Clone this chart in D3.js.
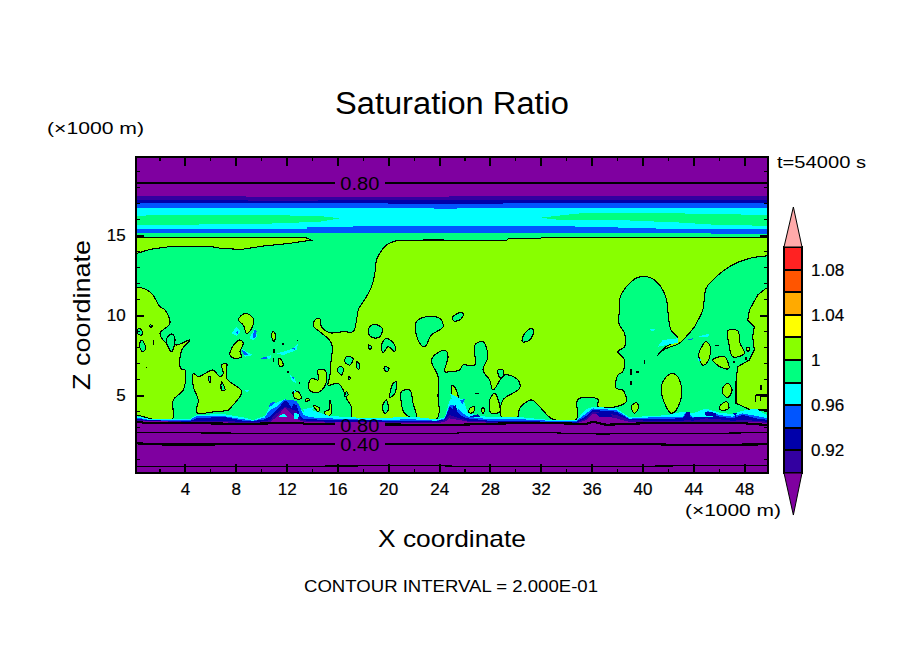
<!DOCTYPE html>
<html><head><meta charset="utf-8">
<script src="https://cdn.jsdelivr.net/npm/d3@7"></script>
<style>
html,body{margin:0;padding:0;background:#fff}
svg{display:block}
text{font-family:"Liberation Sans",sans-serif;fill:#000}
.mark{shape-rendering:crispEdges}
</style></head><body><svg id="c" width="904" height="654"></svg>
<script>
// ---------- text ----------
const titleText = "Saturation Ratio";
const xTitle = "X coordinate", zTitle = "Z coordinate", unitText = "(\u00d71000 m)";
const timeText = "t=54000 s", intervalText = "CONTOUR INTERVAL = 2.000E-01";
// ---------- ticks ----------
const xMajor = [4,8,12,16,20,24,28,32,36,40,44,48];
const xMinor = [2,6,10,14,18,22,26,30,34,38,42,46];
const zMajor = [5,10,15];
const zMinor = [1,2,3,4,6,7,8,9,11,12,13,14,16,17,18,19];
// ---------- colour levels ----------
const levelEdges = [0.90,0.92,0.94,0.96,0.98,1.00,1.02,1.04,1.06,1.08,1.10];
const levelColors = ["#3300a0","#0000aa","#0055ff","#00ffff","#00ff80","#88ff00","#ffff00","#ffaa00","#ff5500","#ff2222"];
const colorUnder = "#7f00a0", colorOver = "#ffaaaa";
const barLabels = [[0.92,"0.92"],[0.96,"0.96"],[1.00,"1"],[1.04,"1.04"],[1.08,"1.08"]];
const [cIndigo,cNavy,cBlue,cCyan,cGreen,cLime] = levelColors;
// ---------- upper-level band edges (x km, z km): area below each edge is painted ----------
const edgeIndigo = [[0.125,17.43],[8.8,17.43],[8.8,17.39],[49.875,17.43]];
const edgeNavy = [[0.125,17.19],[9,17.19],[9,17.15],[49.875,17.19]];
const edgeBlue = [[0.125,16.98],[20,16.98],[20,16.96],[29,16.96],[29,16.98],[49.875,16.98]];
const edgeCyan = [[0.125,16.66],[23.6,16.66],[23.6,16.62],[25.6,16.66],[49.875,16.70]];
const edgeBlueLow = [[0.125,15.35],[3.87,15.35],[3.87,15.39],[13.57,15.39],[13.57,15.48],[17.23,15.48],[17.23,15.56],[34.66,15.56],[34.66,15.48],[38.06,15.48],[38.06,15.41],[41.07,15.41],[41.07,15.37],[49.875,15.37]];
const edgeGreen = [[0.125,15.1],[45.4,15.1],[45.4,15.06],[49.875,15.06]];
const coreLeft = [[0.125,16.19],[1.77,16.25],[9.64,16.25],[14.61,16.19],[16.19,16.04],[14.61,15.83],[9.9,15.69],[0.125,15.62]];
const coreRight = [[31.9,16.08],[35.05,16.35],[42.9,16.35],[49.875,16.25],[49.875,15.58],[46.05,15.62],[43.17,15.77],[37.93,15.94],[33.48,15.94]];
// ---------- ratio > 1 regions ----------
const limeMain = [[50.6,14.85],[49.9,14.85],[41,14.85],[33,14.85],[32.1,14.85],[31.9,14.78],[30,14.78],[29.5,14.78],[29.3,14.68],[26,14.68],[22.2,14.68],[20.64,14.64],[19.85,14.37],[19.33,13.85],[19.07,13.44],[18.94,12.6],[18.68,11.77],[18.28,11.14],[17.76,10.52],[17.63,10.31],[17.5,9.69],[17.23,8.96],[16.45,8.96],[15.4,8.89],[14.74,9.27],[14.61,9.79],[14.22,9.69],[14.14,9.27],[14.61,8.96],[15.53,8.23],[15.48,6.98],[15.4,6.15],[15.27,5.62],[16.05,5.73],[16.45,5.31],[16.71,4.79],[17.1,4.27],[17.23,3.48],[23.78,3.48],[23.91,5.0],[23.91,6.15],[23.39,7.19],[24.05,7.71],[24.52,7.77],[24.7,7.39],[24.44,6.46],[24.83,6.46],[25.62,6.56],[25.88,6.87],[26.8,6.87],[26.8,8.12],[27.45,8.33],[27.84,7.39],[27.45,6.56],[27.97,5.94],[28.24,5.31],[29.15,6.25],[30.2,5.94],[30.33,5.42],[29.02,4.69],[28.89,3.64],[30.2,3.64],[30.33,4.16],[31.25,4.69],[31.9,4.27],[32.95,3.48],[34.79,3.48],[34.92,4.73],[36.49,4.73],[36.49,4.27],[37.93,4.27],[38.72,4.58],[38.45,5.31],[37.93,5.42],[38.06,6.25],[38.45,6.46],[38.59,7.19],[38.06,7.71],[38.59,8.02],[38.59,8.85],[38.14,9.48],[38.19,10.31],[38.19,10.94],[38.45,11.46],[39.11,12.08],[39.63,12.35],[40.55,12.35],[41.34,11.87],[41.86,11.04],[42.07,9.69],[42.25,9.06],[42.78,8.54],[41.86,8.02],[41.2,7.5],[41.73,7.85],[42.9,8.23],[43.43,8.64],[44.09,9.27],[44.38,9.69],[44.74,10.31],[45,11.66],[45.4,12.08],[46.84,13.02],[48.41,13.54],[49.72,13.69],[50.6,13.7]];
const limeWedge = [[0.125,14.85],[13.43,14.85],[13.96,14.68],[12.26,14.48],[10.16,14.31],[8.45,14.1],[6.88,14.16],[5.97,14.29],[2.95,14.29],[1.25,14.1],[0.2,13.85],[0.125,13.85]];
const limeLeft = [[-0.6,11.73],[0.125,11.73],[0.73,11.67],[1.38,11.35],[2.04,10.52],[2.43,10.31],[2.82,9.48],[2.04,8.85],[2.56,8.23],[3.08,8.23],[3.35,8.12],[4.39,8.44],[3.74,7.81],[3.66,6.66],[4,6.56],[3.87,5.31],[3.08,4.69],[3,3.48],[1.51,3.48],[0.2,3.75],[-0.6,3.75]];
const limeLeftB = [[4.66,6.35],[5.05,6.15],[5.84,6.46],[6.23,6.56],[6.75,6.15],[7.01,6.35],[6.88,6.87],[7.28,6.98],[7.28,6.04],[8.46,5.21],[7.67,4.27],[7.41,4.06],[6.36,3.96],[4.92,3.9],[5.05,4.69],[4.66,5.52]];
const limeRight = [[49.875,11.67],[49.72,11.67],[49.07,11.25],[48.41,10.31],[48.28,9.69],[48.8,9.27],[48.67,8.64],[48.8,7.81],[48.41,7.19],[47.49,6.77],[47.36,5.83],[47.36,4.48],[48.54,4.06],[49.72,4.06],[49.875,4.06]];
const limeIslands = [
 [[8.72,10.1],[9.37,9.79],[9.24,9.16],[8.85,8.85],[8.59,9.37],[8.2,9.69]],
 [[8.33,8.44],[8.59,8.23],[8.33,7.71],[8.46,7.39],[7.93,7.29],[7.54,7.5],[7.67,7.91],[8.07,8.33]],
 [[10.94,8.96],[11.13,8.75],[11,8.33],[10.81,8.75]],
 [[11.47,7.29],[11.73,6.87],[11.47,6.77],[11.34,7.19]],
 [[12.52,5.21],[12.91,5.21],[13.17,4.79],[12.65,4.79]],
 [[13.57,4.79],[13.83,4.69],[13.5,4.62]],
 [[14.09,4.37],[14.61,4.16],[14.48,3.96]],
 [[13.96,6.04],[14.48,5.94],[14.48,6.56],[15,6.56],[15.14,5.83],[14.61,5.21],[13.96,5.21],[13.7,5.52]],
 [[15.4,4.69],[15.53,3.85],[15.14,3.64],[15,3.96],[15.32,4.06]],
 [[41.6,5.83],[42.25,6.35],[42.78,6.15],[43.09,5.1],[42.65,4.06],[42.25,3.85],[41.86,4.27],[41.47,5.31]],
 [[44.48,7.71],[45,8.33],[45.34,8.02],[45.14,7.08],[44.74,6.87],[44.43,7.39]],
 [[45.53,7.19],[46.45,7.39],[46.79,6.66],[46.18,6.73]],
 [[46.71,9.02],[47.49,9.02],[47.68,8.23],[48.02,7.6],[47.1,7.39],[46.79,8.23]],
 [[46.31,5.42],[46.71,5.73],[47.05,5.31],[46.71,4.85],[46.31,5.1]],
 [[46.05,4.27],[46.63,4.58],[46.79,4.16],[46.18,4.06]],
 [[39.11,4.27],[39.5,4.52],[39.71,4.27],[39.37,3.85]],
 [[48.15,7.91],[48.41,7.98],[48.33,7.71]],
 [[25.04,5.62],[25.35,5.31],[25.49,4.69],[25.14,4.73],[24.96,5.1]],
 [[26.4,4.16],[26.8,4.27],[26.66,3.9],[26.35,3.9]],
 [[27.32,4.16],[27.58,4.16],[27.45,3.81]],
 [[27.97,4.69],[28.37,5.1],[28.76,4.37],[28.76,3.96],[28.1,3.85]]
];
const greenHoles = [
 [[18.55,9.27],[18.94,9.41],[19.52,9.16],[19.33,8.64],[18.81,8.58],[18.42,8.85]],
 [[22.14,9.48],[22.74,9.85],[24.05,9.79],[24.31,9.27],[23.39,8.75],[22.87,8.02],[22.47,8.23]],
 [[19.46,8.12],[19.85,8.54],[20.51,8.12],[20.51,7.71],[19.99,8.02],[19.59,7.64]],
 [[18.42,8.12],[18.68,8.02],[18.55,7.81]],
 [[16.71,7.39],[17.23,7.29],[16.97,6.87],[16.58,7.08]],
 [[17.5,7.08],[17.76,6.87],[17.68,6.6],[17.5,6.77]],
 [[16.19,6.77],[16.45,6.66],[16.32,6.25],[15.98,6.56]],
 [[16.84,6.19],[17.02,6.04],[16.89,5.94]],
 [[19.72,6.77],[20.06,6.66],[19.91,6.46],[19.67,6.6]],
 [[20.38,5.73],[20.64,5.83],[20.51,5.1],[20.12,4.85]],
 [[16.71,5.21],[16.84,5],[16.58,4.9]],
 [[19.85,4.69],[19.99,4.06],[19.72,3.85],[19.54,4.27]],
 [[21.03,5.21],[21.69,5.31],[21.95,4.48],[22.21,3.54],[21.29,3.85],[21.03,4.48]],
 [[25.09,9.89],[25.62,10.14],[25.93,10.06],[25.62,9.69],[25.14,9.64]],
 [[30.73,8.85],[31.25,9.16],[31.43,8.96],[31.12,8.44],[30.54,8.33]],
 [[28.63,6.56],[29.02,6.56],[29.02,6.15],[28.76,6.1]],
 [[0.33,9.16],[0.6,9.06],[0.6,8.75],[0.26,8.85]],
 [[1.25,9.37],[1.46,9.33],[1.3,9.21]],
 [[0.6,8.44],[0.91,7.91],[0.65,7.71],[0.41,8.12]],
 [[5.84,6.15],[6.02,6.15],[5.97,5.73]],
 [[6.88,5.83],[7.15,5.31],[6.88,5.31]],
 [[2.56,8.54],[2.95,8.81],[3.21,8.54],[2.95,7.71],[2.56,8.23]]
];
const specks = [[[1.51,8.44],[1.51,8.14]],[[0.99,6.78],[0.99,6.68]],[[40.16,7.2],[40.16,6.95]],[[39.11,6.6],[39.11,6.25]],[[39.45,6.45],[39.7,6.45]],[[39.11,5.85],[39.11,5.65]],[[26.8,5.1],[27.1,5.1]],[[48.15,7.4],[48.15,7.2]],[[47.1,7.05],[47.3,7.05]],[[49.33,5.6],[49.33,5.3]],[[48.9,5],[48.9,4.55]],[[49.3,5],[49.3,4.6]],[[48.9,5],[49.8,5]],[[11.0,7.9],[11.0,7.6]],[[10.95,7.3],[10.95,7.05]],[[11.6,8.2],[11.8,8.2]],[[12.8,8.4],[12.9,8.4]],[[12,6.45],[12.2,6.45]],[[13,5.8],[13,5.7]],[[45.7,8.1],[46,8.1]]];
// ---------- small low-saturation filaments ----------
const cyanPatches = [
 [[7.67,8.85],[8.06,9.27],[8.38,8.96],[8.06,8.71]],
 [[9.06,8.54],[9.5,9.16],[9.69,8.64],[9.37,8.44]],
 [[8.46,7.91],[8.85,7.71],[9.37,7.5],[8.72,7.39]],
 [[11.21,7.6],[11.73,7.71],[12.52,7.91],[12.91,8.23],[12.78,7.81],[11.73,7.5]],
 [[10.29,7.35],[10.81,7.5],[10.68,7.23]],
 [[12.26,6.25],[12.65,6.04],[12.78,5.69],[12.39,5.94]],
 [[8.72,5.31],[9.03,5.31],[8.9,5.17]],
 [[10.55,4.16],[10.95,4.58],[11.21,4.37]],
 [[13.3,4.1],[14.09,4.23],[13.96,3.96],[13.43,3.96]],
 [[12.52,5.31],[12.78,5.25],[12.65,5.1]],
 [[41.2,8.02],[41.6,8.44],[42.78,8.54],[42.78,8.27],[41.86,8.12]],
 [[44.22,8.6],[45.27,8.85],[45.14,8.6]],
 [[40.55,9.1],[41.02,9.1],[40.81,8.96]],
 [[44.35,7.33],[44.66,7.19],[44.43,7.08]],
 [[48.54,4.06],[49.07,4.06],[48.93,3.69]]
];
const bluePatches = [
 [[7.93,8.94],[8.2,8.98],[8.12,8.81]],
 [[9.43,9.06],[9.64,9.02],[9.58,8.6],[9.32,8.54]],
 [[8.46,7.81],[8.72,7.71],[8.98,7.5],[8.59,7.54]],
 [[9.9,7.29],[10.42,7.39],[10.47,7.23]],
 [[12.39,7.91],[12.7,7.98],[12.65,7.81]],
 [[10.68,4.48],[11.08,4.58],[10.95,4.27],[10.55,4.06]],
 [[12.39,6.15],[12.65,6.15],[12.52,5.98]],
 [[43.56,8.48],[43.96,8.54],[43.83,8.39]],
 [[44.43,7.29],[44.61,7.19],[44.48,7.12]]
];
// patches painted over the near-surface layers
const overCyan = [
 [[11.3,3.62],[11.8,3.85],[12.1,3.62]],
 [[12.6,3.9],[13,3.8],[12.9,3.52],[12.6,3.52]],
 [[43.83,3.75],[44.74,4.1],[45.92,3.6],[43.96,3.6]],
 [[24.83,5.1],[25.62,4.79],[26.14,4.27],[25.35,4.06]]
];
const overBlue = [[[25.62,4.69],[26.01,4.73],[25.83,4.44]],[[12.05,4.6],[12.6,4.65],[12.4,4.2]]];
const navyPatches = [
 [[25.09,4.31],[25.35,4.37],[25.41,3.75],[25.09,3.75]],
 [[26.4,3.64],[27.06,3.81],[27.32,3.6]],
 [[36.36,3.85],[37.41,3.89],[37.67,3.6],[36.62,3.6]],
 [[43.43,3.96],[43.75,3.96],[43.75,3.6],[43.48,3.6]],
 [[44.87,3.96],[45.79,3.89],[45.79,3.64],[45,3.69]],
 [[47.1,3.89],[47.41,3.85],[47.36,3.6]]
];
// ---------- near-surface layers: shared x, one top height per level ----------
const groundX = [0.125,1.25,4.39,4.92,7.01,8.59,9.37,10.29,10.68,11.2,11.86,12.78,13.1,13.3,13.96,15.4,18.55,21.95,23.78,24.44,24.83,25.22,25.88,26.27,27.97,30.59,32.69,34.79,35.57,36.09,37.93,38.98,40.55,41.86,43.17,43.43,43.95,45,46.05,47.1,47.88,48.93,49.875];
const groundCyan = [3.69,3.5,3.5,3.75,3.81,3.6,3.44,3.69,4.27,4.52,4.73,4.58,4.16,3.96,4.06,3.69,3.54,3.64,3.48,3.6,4.69,4.89,4.73,3.85,3.6,3.6,3.44,3.44,4.1,4.27,4.16,3.6,3.69,3.73,3.96,3.96,3.85,4.16,3.89,3.81,4.02,4.16,3.69];
const groundBlue = [3.6,3.44,3.44,3.69,3.69,3.48,3.39,3.6,4.06,4.27,4.73,4.64,4.16,3.75,3.6,3.54,3.44,3.48,3.39,3.54,4.37,4.37,3.85,3.64,3.48,3.48,3.39,3.39,3.85,4.16,4.06,3.52,3.6,3.64,3.64,3.96,3.64,4.02,3.75,3.64,3.85,3.69,3.54];
const groundNavy = [3.52,3.42,3.37,3.54,3.64,3.39,3.37,3.48,3.64,4.06,4.64,4.37,3.64,3.52,3.48,3.44,3.42,3.37,3.37,3.48,4.27,4.06,3.64,3.54,3.39,3.37,3.33,3.33,3.69,4.06,3.96,3.48,3.48,3.52,3.54,3.85,3.54,3.96,3.64,3.54,3.75,3.54,3.44];
const groundIndigo = [3.44,3.39,3.33,3.39,3.39,3.31,3.29,3.37,3.42,3.85,4.27,4.0,3.48,3.42,3.37,3.33,3.33,3.31,3.29,3.44,3.75,3.64,3.48,3.39,3.33,3.31,3.29,3.27,3.54,3.96,3.75,3.44,3.39,3.39,3.39,3.44,3.39,3.54,3.48,3.39,3.44,3.39,3.33];
const groundPurple = [3.39,3.37,3.31,3.33,3.29,3.25,3.25,3.27,3.31,3.6,4.23,3.54,3.39,3.34,3.31,3.27,3.23,3.23,3.23,3.33,3.54,3.48,3.39,3.33,3.27,3.25,3.23,3.23,3.44,3.85,3.54,3.31,3.29,3.33,3.29,3.31,3.29,3.31,3.29,3.29,3.29,3.29,3.27];
// ---------- labelled contour lines ----------
const line080Top = [[0.125,18.25],[49.875,18.25]];
const line080Low = [[0.125,3.33],[1,3.25],[4,3.25],[8.8,3.19],[12.8,3.27],[13.5,3.2],[15.7,3.19],[24.83,3.12],[27.5,3.19],[31.6,3.27],[35.57,3.19],[36.09,3.33],[37.14,3.14],[41.3,3.27],[47.36,3.27],[49.875,3.12]];
const line060Low = [[0.125,2.64],[16.45,2.6],[24.83,2.6],[25.88,2.64],[32.69,2.64],[36.62,2.56],[49.875,2.64]];
const line040Low = [[0.125,1.98],[2.56,1.9],[15.7,1.94],[40.55,1.94],[41.86,1.9],[45,1.87],[49.875,1.92]];
const line020Low = [[0.125,0.52],[23.26,0.58],[24.83,0.56],[32.69,0.52],[49.875,0.6]];
const contourLabels = [["0.80",17.76,18.25],["0.80",17.76,3.15],["0.40",17.76,1.92]];

// ---------- scales ----------
const svg = d3.select("#c");
const X = d3.scaleLinear().domain([0.125,49.875]).range([135.7,768]);
const Z = d3.scaleLinear().domain([0.125,19.875]).range([473,157]);
const BY = d3.scaleLinear().domain([0.90,1.10]).range([473,247]);
const BX = d3.scaleLinear().domain([0,1]).range([784,802]);
const poly = d3.line().x(d=>X(d[0])).y(d=>Z(d[1])).curve(d3.curveLinearClosed);
const smooth = d3.line().x(d=>X(d[0])).y(d=>Z(d[1])).curve(d3.curveCatmullRomClosed.alpha(0.5));
const open = d3.line().x(d=>X(d[0])).y(d=>Z(d[1]));
const below = d3.area().x(d=>X(d[0])).y0(Z(0.125)).y1(d=>Z(d[1]));

const defs = svg.append("defs");
defs.append("clipPath").attr("id","plot").append("rect")
  .attr("x",X(0.125)).attr("y",Z(19.875)).attr("width",X(49.875)-X(0.125)).attr("height",Z(0.125)-Z(19.875));
const g = svg.append("g").attr("clip-path","url(#plot)").attr("class","mark");

g.append("rect").attr("x",X(0.125)).attr("y",Z(19.875)).attr("width",X(49.875)-X(0.125)).attr("height",Z(0.125)-Z(19.875)).attr("fill",colorUnder);
[[edgeIndigo,cIndigo],[edgeNavy,cNavy],[edgeBlue,cBlue],[edgeCyan,cCyan]].forEach(([e,c])=>g.append("path").attr("d",below(e)).attr("fill",c));
[coreLeft,coreRight].forEach(p=>g.append("path").attr("d",poly(p)).attr("fill",cGreen));
[[edgeBlueLow,cBlue],[edgeGreen,cGreen]].forEach(([e,c])=>g.append("path").attr("d",below(e)).attr("fill",c));

const outlined = (list,fill,gen)=>g.append("g").selectAll("path").data(list).join("path")
  .attr("d",gen).attr("fill",fill).attr("stroke","#000").attr("stroke-width",1.1);
outlined([limeWedge,limeRight],cLime,poly);
outlined([limeMain,limeLeft,limeLeftB],cLime,smooth);
outlined(greenHoles,cGreen,smooth);
outlined(limeIslands,cLime,smooth);
g.append("g").selectAll("path").data(specks).join("path").attr("d",open).attr("fill","none").attr("stroke","#000").attr("stroke-width",1.5);

const plain = (list,fill)=>g.append("g").selectAll("path").data(list).join("path").attr("d",poly).attr("fill",fill);
plain(cyanPatches,cCyan);
plain(bluePatches,cBlue);

[[groundCyan,cCyan],[groundBlue,cBlue],[groundNavy,cNavy],[groundIndigo,cIndigo],[groundPurple,colorUnder]].forEach(([zs,c])=>{
  g.append("path").attr("d",below(groundX.map((x,i)=>[x,zs[i]]))).attr("fill",c);
});
plain(overCyan,cCyan);
plain(overBlue,cBlue);
plain(navyPatches,cNavy);

[[line080Top,2],[line080Low,2.2],[line060Low,1.1],[line040Low,2.2],[line020Low,1.1]].forEach(([l,w])=>{
  g.append("path").attr("d",open(l)).attr("fill","none").attr("stroke","#000").attr("stroke-width",w);
});
contourLabels.forEach(([t,x,z])=>{
  g.append("rect").attr("x",X(x)-25).attr("y",Z(z)-3).attr("width",50).attr("height",6).attr("fill",colorUnder);
  svg.append("text").attr("x",X(x)-19.5).attr("y",Z(z)+7).attr("font-size",19).attr("textLength",39).attr("lengthAdjust","spacingAndGlyphs").text(t);
});

// ---------- axes ----------
function ax(kind,scale,tr,vals,len,labels){
  const a = kind(scale).tickValues(vals).tickSizeInner(-len).tickSizeOuter(0).tickPadding(10);
  if(!labels) a.tickFormat("");
  const s = svg.append("g").attr("transform",tr).call(a);
  s.select(".domain").remove();
  s.selectAll("line").attr("stroke","#000").attr("stroke-width",len>6?2:1.2).attr("shape-rendering","crispEdges");
  s.selectAll("text").attr("font-size",17).attr("font-family",'"Liberation Sans",sans-serif').attr("stroke","#000").attr("stroke-width",0.2);
  return s;
}
ax(d3.axisBottom,X,"translate(0,473)",xMajor,9,true);
ax(d3.axisBottom,X,"translate(0,473)",xMinor,4,false);
ax(d3.axisTop,X,"translate(0,157)",xMajor,9,false);
ax(d3.axisTop,X,"translate(0,157)",xMinor,4,false);
ax(d3.axisLeft,Z,"translate(135.7,0)",zMajor,8,true);
ax(d3.axisLeft,Z,"translate(135.7,0)",zMinor,4,false);
ax(d3.axisRight,Z,"translate(768,0)",zMajor,8,false);
ax(d3.axisRight,Z,"translate(768,0)",zMinor,4,false);
svg.append("rect").attr("x",X(0.125)).attr("y",Z(19.875)).attr("width",X(49.875)-X(0.125)).attr("height",Z(0.125)-Z(19.875))
  .attr("fill","none").attr("stroke","#000").attr("stroke-width",2).attr("shape-rendering","crispEdges");

// ---------- texts ----------
function label(t,x,y,size,len){
  return svg.append("text").attr("x",x).attr("y",y).attr("font-size",size).attr("textLength",len).attr("lengthAdjust","spacingAndGlyphs").text(t);
}
label(titleText,335,114,31,234);
label(unitText,47,134,16,97);
label(unitText,685,516,16,96);
label(timeText,777,168,16,89);
label(xTitle,378,547,24,148);
label(intervalText,304,592,17,294);
svg.append("text").attr("transform","translate(90,390) rotate(-90)").attr("font-size",24).attr("textLength",150).attr("lengthAdjust","spacingAndGlyphs").text(zTitle);

// ---------- colour bar ----------
const bar = svg.append("g").attr("class","mark");
levelColors.forEach((c,i)=>{
  bar.append("rect").attr("x",BX(0)).attr("width",BX(1)-BX(0)).attr("y",BY(levelEdges[i+1])).attr("height",BY(levelEdges[i])-BY(levelEdges[i+1]))
    .attr("fill",c).attr("stroke","#000").attr("stroke-width",2);
});
const tri = d3.line().x(d=>BX(d[0])).y(d=>BY(d[1])).curve(d3.curveLinearClosed);
svg.append("path").attr("d",tri([[0,1.10],[1,1.10],[0.52,1.1354]])).attr("fill",colorOver).attr("stroke","#000").attr("stroke-width",1);
svg.append("path").attr("d",tri([[0,0.90],[1,0.90],[0.52,0.8628]])).attr("fill",colorUnder).attr("stroke","#000").attr("stroke-width",1);
barLabels.forEach(([v,t])=>{
  svg.append("text").attr("x",811).attr("y",BY(v)+6).attr("font-size",17).attr("stroke","#000").attr("stroke-width",0.2).text(t);
});
</script></body></html>
